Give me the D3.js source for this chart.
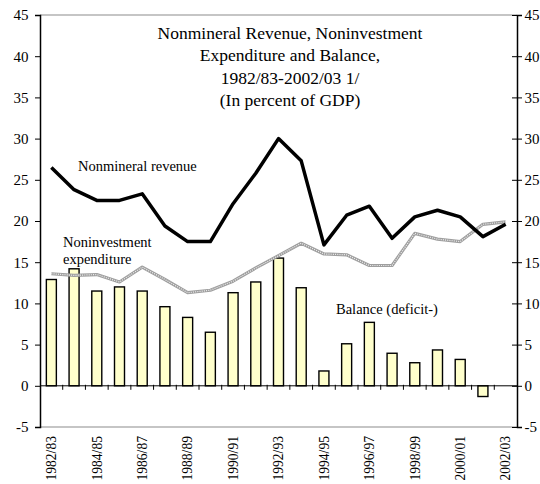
<!DOCTYPE html>
<html>
<head>
<meta charset="utf-8">
<script src="https://cdn.jsdelivr.net/npm/d3@7/dist/d3.min.js"></script>
<style>
  html, body { margin: 0; padding: 0; background: #fff; overflow: hidden; }
  svg text { font-family: "Liberation Serif", "DejaVu Serif", serif; }
</style>
</head>
<body>
<div id="chart"></div>
<script>
// Fiscal years
const years = ["1982/83","1983/84","1984/85","1985/86","1986/87","1987/88","1988/89",
  "1989/90","1990/91","1991/92","1992/93","1993/94","1994/95","1995/96","1996/97",
  "1997/98","1998/99","1999/00","2000/01","2001/02","2002/03"];

// Nonmineral revenue, percent of GDP
const revenue = [26.5, 23.8, 22.5, 22.5, 23.3, 19.4, 17.5, 17.5, 22.1, 25.8, 30.0,
  27.3, 17.1, 20.7, 21.8, 17.9, 20.5, 21.3, 20.5, 18.1, 19.6];

// Noninvestment expenditure, percent of GDP
const expenditure = [13.6, 13.4, 13.5, 12.6, 14.4, 12.9, 11.3, 11.6, 12.7, 14.3, 15.8,
  17.3, 16.0, 15.9, 14.6, 14.6, 18.5, 17.8, 17.5, 19.6, 19.9];

// Balance (deficit-), percent of GDP
const balance = [12.9, 14.2, 11.5, 12.0, 11.5, 9.6, 8.3, 6.5, 11.3, 12.6, 15.5,
  11.9, 1.8, 5.1, 7.7, 3.95, 2.8, 4.35, 3.2, -1.3, null];

const yTicks = [-5, 0, 5, 10, 15, 20, 25, 30, 35, 40, 45];
const xLabelYears = years.filter((d, i) => i % 2 === 0);

const titleLines = ["Nonmineral Revenue, Noninvestment", "Expenditure and Balance,",
  "1982/83-2002/03 1/", "(In percent of GDP)"];

const FONT = "'Liberation Serif', 'DejaVu Serif', serif";
const W = 540, H = 484;
const plotL = 40, plotR = 517, plotT = 15, plotB = 427;

const svg = d3.select("#chart").append("svg")
  .attr("width", W).attr("height", H);

const x = d3.scaleBand().domain(years).range([plotL, plotR]).padding(0);
const y = d3.scaleLinear().domain([-5, 45]).range([plotB, plotT]);

// Frame: grey top and bottom edges
svg.append("line").attr("x1", plotL).attr("x2", plotR).attr("y1", y(45)).attr("y2", y(45))
  .attr("stroke", "#8c8c8c").attr("stroke-width", 1.2);
svg.append("line").attr("x1", plotL).attr("x2", plotR).attr("y1", y(-5)).attr("y2", y(-5))
  .attr("stroke", "#8c8c8c").attr("stroke-width", 1.2);

// Left and right value axes
const yAxisL = svg.append("g").attr("transform", `translate(${plotL},0)`)
  .call(d3.axisLeft(y).tickValues(yTicks).tickSize(5).tickFormat(d => String(d)));
const yAxisR = svg.append("g").attr("transform", `translate(${plotR},0)`)
  .call(d3.axisRight(y).tickValues(yTicks).tickSize(5).tickFormat(d => String(d)));
yAxisR.selectAll(".tick line").attr("x1", -5);

[yAxisL, yAxisR].forEach(g => {
  g.attr("font-family", FONT);
  g.select(".domain").attr("stroke", "#000").attr("stroke-width", 1.5);
  g.selectAll(".tick line").attr("stroke", "#000").attr("stroke-width", 1);
  g.selectAll(".tick text").attr("font-size", 15).attr("fill", "#000");
});
yAxisL.selectAll(".tick text").attr("x", -11.5);
yAxisR.selectAll(".tick text").attr("x", 7.5);

// Bars for the balance
svg.append("g").selectAll("rect")
  .data(years.map((yr, i) => ({ yr, v: balance[i] })).filter(d => d.v !== null))
  .join("rect")
  .attr("x", d => x(d.yr) + x.bandwidth() / 2 - 5)
  .attr("width", 10)
  .attr("y", d => y(Math.max(0, d.v)))
  .attr("height", d => Math.abs(y(d.v) - y(0)))
  .attr("fill", "#FFFFCC")
  .attr("stroke", "#000")
  .attr("stroke-width", 1.4);

// Zero line with category tick marks
svg.append("line").attr("x1", plotL).attr("x2", plotR).attr("y1", y(0)).attr("y2", y(0))
  .attr("stroke", "#000").attr("stroke-width", 1);
svg.append("g").selectAll("line")
  .data(years.slice(1))
  .join("line")
  .attr("x1", d => x(d)).attr("x2", d => x(d))
  .attr("y1", y(0) - 1).attr("y2", y(0) + 4)
  .attr("stroke", "#000").attr("stroke-width", 1);

const cx = d => x(d) + x.bandwidth() / 2;

// Noninvestment expenditure: grey textured line
const lineExp = d3.line().x((d, i) => cx(years[i])).y(d => y(d));
svg.append("path").datum(expenditure).attr("d", lineExp)
  .attr("fill", "none").attr("stroke", "#9f9f9f").attr("stroke-width", 3.2)
  .attr("stroke-linejoin", "round");
svg.append("path").datum(expenditure).attr("d", lineExp)
  .attr("fill", "none").attr("stroke", "#ffffff").attr("stroke-width", 1.2)
  .attr("stroke-dasharray", "1,1.2").attr("opacity", 0.85);

// Nonmineral revenue: heavy black line
const lineRev = d3.line().x((d, i) => cx(years[i])).y(d => y(d));
svg.append("path").datum(revenue).attr("d", lineRev)
  .attr("fill", "none").attr("stroke", "#000").attr("stroke-width", 3.5)
  .attr("stroke-linejoin", "round");

// Category labels, rotated
svg.append("g").attr("font-family", FONT).selectAll("text")
  .data(xLabelYears)
  .join("text")
  .attr("transform", d => `translate(${cx(d) + 4.8},436) rotate(-90)`)
  .attr("text-anchor", "end")
  .attr("font-size", 13.6)
  .attr("fill", "#000")
  .text(d => d);

// Title
svg.append("g").attr("font-family", FONT).selectAll("text")
  .data(titleLines)
  .join("text")
  .attr("x", 290)
  .attr("y", (d, i) => 38.5 + i * 22.6)
  .attr("text-anchor", "middle")
  .attr("font-size", 17.5)
  .attr("fill", "#000")
  .text(d => d);

// Series labels
const labels = svg.append("g").attr("font-family", FONT).attr("font-size", 14.5).attr("fill", "#000");
labels.append("text").attr("x", 78).attr("y", 171).text("Nonmineral revenue");
labels.append("text").attr("x", 63).attr("y", 247).text("Noninvestment");
labels.append("text").attr("x", 63).attr("y", 264).text("expenditure");
labels.append("text").attr("x", 336).attr("y", 313.5).text("Balance (deficit-)");
</script>
</body>
</html>
